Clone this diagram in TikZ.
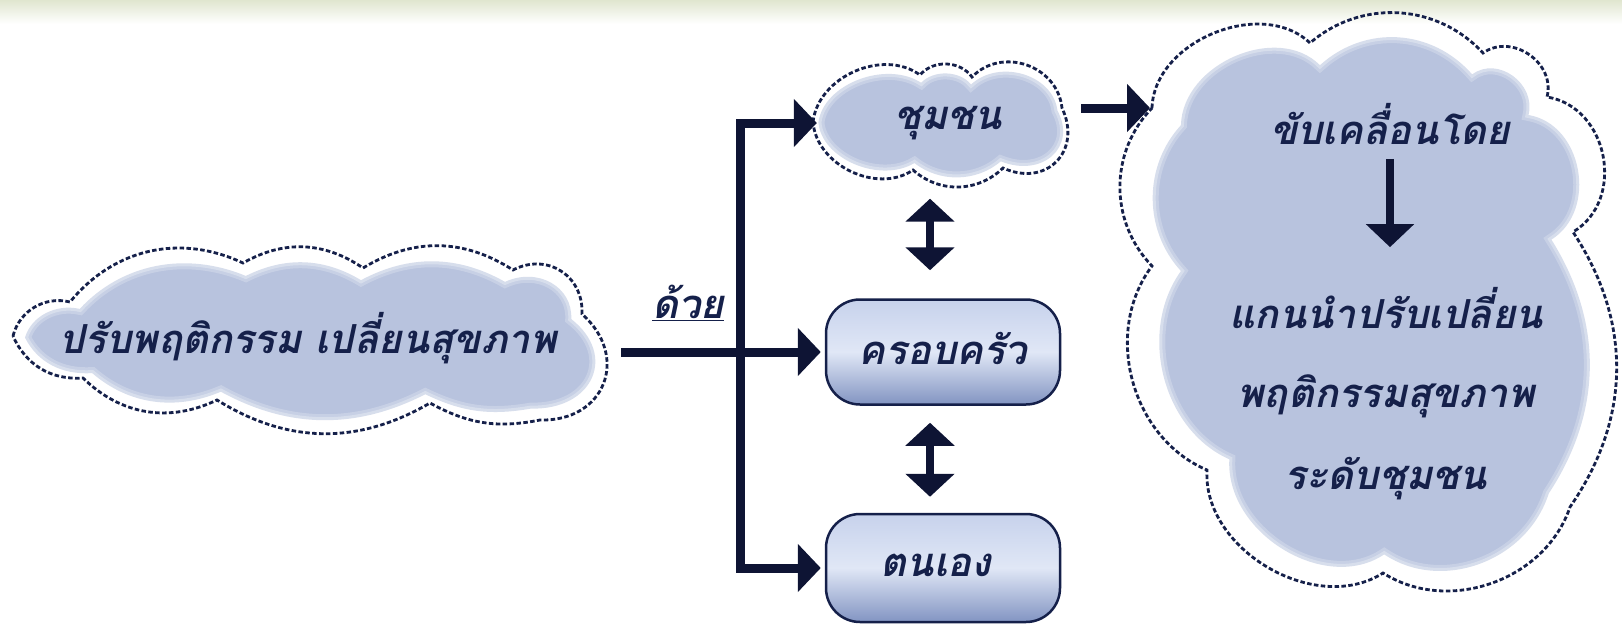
\documentclass[tikz,border=0pt]{standalone}
\usepackage{fontspec}
\newfontfamily\thaifont[Script=Thai]{Loma}
\usetikzlibrary{arrows.meta,calc}

\definecolor{ink}{HTML}{15204A}
\definecolor{arrowc}{HTML}{0E1434}
\definecolor{cloudfill}{HTML}{B8C3DE}
\definecolor{boxtop}{HTML}{C7D2EC}
\definecolor{boxmid}{HTML}{E0E7F6}
\definecolor{boxbot}{HTML}{8294C2}
\definecolor{bandtop}{HTML}{E0E6CF}

% cloud outlines, relative to each cloud's centre (y grows downwards)
\newcommand\leftcloudshape{(-300,-4) to[bend left=45] (-243,-38)
  to[bend left=38] (-70,-77) to[bend left=32] (50,-72)
  to[bend left=32] (200,-70) to[bend left=60, looseness=1.2] (269,-26)
  to[bend left=70, looseness=1.45] (227,80) to[bend left=20] (117,63)
  to[bend left=31] (-96,60) to[bend left=35] (-230,38)
  to[bend left=35] (-300,-4) -- cycle}
\newcommand\chumcloudshape{(-135,-3) to[bend left=60] (-28,-50)
  to[bend left=52] (24,-48) to[bend left=65, looseness=1.15] (114,-17)
  to[bend left=70, looseness=1.45] (55,43) to[bend left=43] (-35,45)
  to[bend left=60] (-135,-3) -- cycle}
\newcommand\bigcloudshape{(-216,-197) to[bend left=66] (-58,-262)
  to[bend left=44] (115,-252) to[bend left=70, looseness=1.16] (179,-208)
  to[bend left=70, looseness=1.16] (205,-73) to[bend left=34] (202,202)
  to[bend left=52] (15,268) to[bend left=63] (-161,165)
  to[bend left=52] (-216,-39) to[bend left=44] (-216,-197) -- cycle}

\tikzset{
  thai/.style={text=ink, inner sep=0pt,
    font=\thaifont\bfseries\itshape\fontsize{40}{48}\selectfont},
  hitbox/.style={inner sep=0pt},
  cloudedge/.style={draw=ink, line width=2.8pt, dash pattern=on 4.5pt off 2.4pt},
  cloudbody/.style={fill=cloudfill,
    postaction={draw=white, line width=12pt, draw opacity=0.22},
    postaction={draw=white, line width=6pt, draw opacity=0.3}},
  panel/.style={rounded corners=34pt, draw=ink, line width=2.5pt,
    top color=boxtop, bottom color=boxbot, middle color=boxmid,
    minimum width=234pt, minimum height=105pt},
  arr/.style={draw=arrowc, line width=9pt,
    -{Triangle[length=23pt,width=47pt]}},
  dbl/.style={draw=arrowc, line width=8pt,
    {Triangle[length=23pt,width=48pt]}-{Triangle[length=23pt,width=48pt]}}
}

\begin{document}
\begin{tikzpicture}[x=1pt,y=-1pt]
  \useasboundingbox (0,0) rectangle (1622,627);
  % pale band along the top edge
  \fill[top color=bandtop, bottom color=white] (0,0) rectangle (1622,24);

  % left cloud
  \begin{scope}[shift={(313,341)}, xscale=0.96, yscale=0.845]
    \path[cloudbody] \leftcloudshape;
  \end{scope}
  \begin{scope}[shift={(313,340)}]
    \path[cloudedge] \leftcloudshape;
  \end{scope}
  \node[hitbox, thai, minimum width=600pt, minimum height=186pt] (lcloud) at (308,338) {ปรับพฤติกรรม เปลี่ยนสุขภาพ};

  % community cloud
  \begin{scope}[shift={(948,125)}, xscale=0.96, yscale=0.845]
    \path[cloudbody] \chumcloudshape;
  \end{scope}
  \begin{scope}[shift={(948,125)}]
    \path[cloudedge] \chumcloudshape;
  \end{scope}
  \node[hitbox, thai, minimum width=270pt, minimum height=123pt] (chum) at (948,123) {ชุมชน};

  % family and self boxes
  \node[panel] (family) at (943,352) {};
  \node[thai] (familytext) at (943,348) {ครอบครัว};
  \node[panel, minimum height=108pt] (self) at (943,568) {};
  \node[thai] (selftext) at (936,565) {ตนเอง};

  % large cloud on the right
  \begin{scope}[shift={(1371,307)}, xscale=0.88, yscale=0.923]
    \path[cloudbody] \bigcloudshape;
  \end{scope}
  \begin{scope}[shift={(1368,305)}]
    \path[cloudedge] \bigcloudshape;
  \end{scope}
  \node[hitbox, minimum width=497pt, minimum height=584pt] (big) at (1368,305) {};
  \node[thai] (t1) at (1390,124) {ขับเคลื่อนโดย};
  \node[thai] (t2) at (1386,308) {แกนนำปรับเปลี่ยน};
  \node[thai] (t3) at (1386,396) {พฤติกรรมสุขภาพ};
  \node[thai] (t4) at (1386,479) {ระดับชุมชน};

  % label on the main line
  \node[thai] (via) at (688,303) {\underline{ด้วย}};

  % connectors
  \coordinate (fork) at (740,352);
  \coordinate (bigin) at (1150,108);
  \draw[arr, shorten <=13pt, shorten >=4pt] (lcloud.east |- family.west) -- (family.west);
  \draw[arr, shorten >=-4pt] (fork) |- (chum.west);
  \draw[arr, shorten >=4pt] (fork) |- (self.west);
  \draw[arr, shorten <=-2pt] ([yshift=15pt]chum.east) -- (bigin);
  \draw[dbl, shorten <=28pt, shorten >=14pt] ([xshift=-13pt]family.north) -- ([xshift=-13pt]family.north |- chum.south);
  \draw[dbl, shorten <=17pt, shorten >=16pt] ([xshift=-13pt]family.south) -- ([xshift=-13pt]self.north);
  \draw[arr, line width=8pt, shorten <=14pt, shorten >=40pt] (t1.south) -- (t1.south |- t2.north);
\end{tikzpicture}
\end{document}
